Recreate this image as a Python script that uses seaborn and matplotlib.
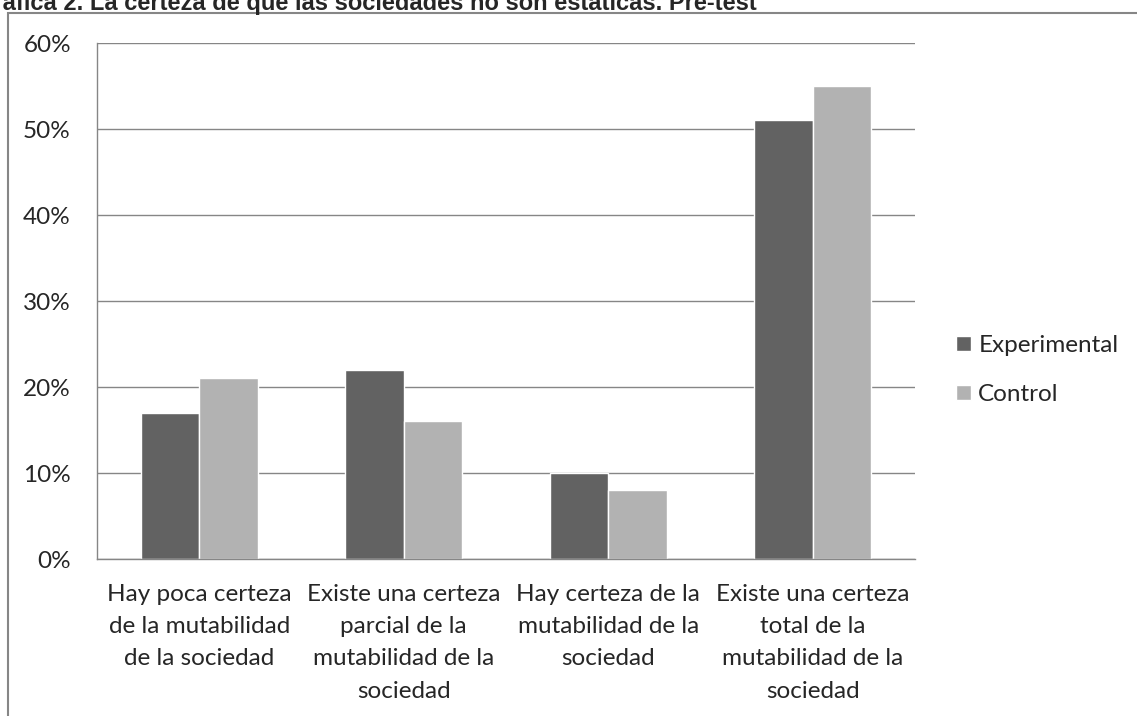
import matplotlib
matplotlib.use("Agg")
import matplotlib.pyplot as plt
import matplotlib.patches as mpatches
from matplotlib.ticker import PercentFormatter, FixedLocator
import pandas as pd
import seaborn as sns

sns.set_style("white")
plt.rcParams['font.family'] = ['Lato', 'DejaVu Sans']

categories = [
    "Hay poca certeza\nde la mutabilidad\nde la sociedad",
    "Existe una certeza\nparcial de la\nmutabilidad de la\nsociedad",
    "Hay certeza de la\nmutabilidad de la\nsociedad",
    "Existe una certeza\ntotal de la\nmutabilidad de la\nsociedad",
]
series = ["Experimental", "Control"]
experimental = [0.17, 0.22, 0.10, 0.51]
control = [0.21, 0.16, 0.08, 0.55]
yticks = [0, 0.1, 0.2, 0.3, 0.4, 0.5, 0.6]
title = "Gráfica 2. La certeza de que las sociedades no son estáticas. Pre-test"

df = pd.DataFrame({
    "cat": categories * 2,
    "grupo": [series[0]] * 4 + [series[1]] * 4,
    "valor": experimental + control,
})

W, H = 1137, 716
FS = 17.5
fig = plt.figure(figsize=(W / 100, H / 100), dpi=100)
ax = fig.add_axes([97 / W, 1 - 559 / H, (915 - 97) / W, (559 - 43) / H])

grey = "#868686"
sns.barplot(data=df, x="cat", y="valor", hue="grupo", order=categories,
            hue_order=series, palette=["#626262", "#b2b2b2"], width=0.57,
            saturation=1, ax=ax, legend=True)

ax.set_xlim(-0.5, 3.5)
ax.set_ylim(0, 0.6)
ax.set_yticks(yticks)
ax.yaxis.set_major_formatter(PercentFormatter(1.0, decimals=0))
ax.yaxis.grid(True, color=grey, lw=1)
ax.set_axisbelow(True)
ax.set_xlabel("")
ax.set_ylabel("")

# category separators as outward ticks
ax.xaxis.set_minor_locator(FixedLocator([-0.5, 0.5, 1.5, 2.5, 3.5]))
ax.tick_params(axis="x", which="major", length=0, pad=18, labelsize=FS)
ax.tick_params(axis="x", which="minor", length=5.8, width=1, color=grey, direction="out")
ax.tick_params(axis="y", length=5.8, width=1, color=grey, direction="out", pad=13, labelsize=FS)
for lab in ax.get_xticklabels():
    lab.set_multialignment("center")
    lab.set_linespacing(1.66)

for side in ["top", "right"]:
    ax.spines[side].set_visible(False)
for side in ["left", "bottom"]:
    ax.spines[side].set_color(grey)
    ax.spines[side].set_linewidth(1)

ax.legend(loc="center left", bbox_to_anchor=(956 / W, 1 - 370 / H),
          bbox_transform=fig.transFigure, frameon=False, fontsize=FS,
          handlelength=0.62, handleheight=0.62, handletextpad=0.3,
          labelspacing=1.15, borderaxespad=0, borderpad=0)

# outer frame of the chart area (runs off the right and bottom edges)
fig.patches.append(mpatches.Rectangle((8 / W, -0.05), 1.1, 1 - 13 / H + 0.05,
                                      transform=fig.transFigure, fill=False,
                                      edgecolor=grey, lw=1.5))

fig.text(757 / W, 1 - 10 / H, title, ha="right", va="baseline",
         fontsize=17, fontweight="bold", family=["Liberation Sans", "DejaVu Sans"])

fig.savefig("out.png", dpi=100)
